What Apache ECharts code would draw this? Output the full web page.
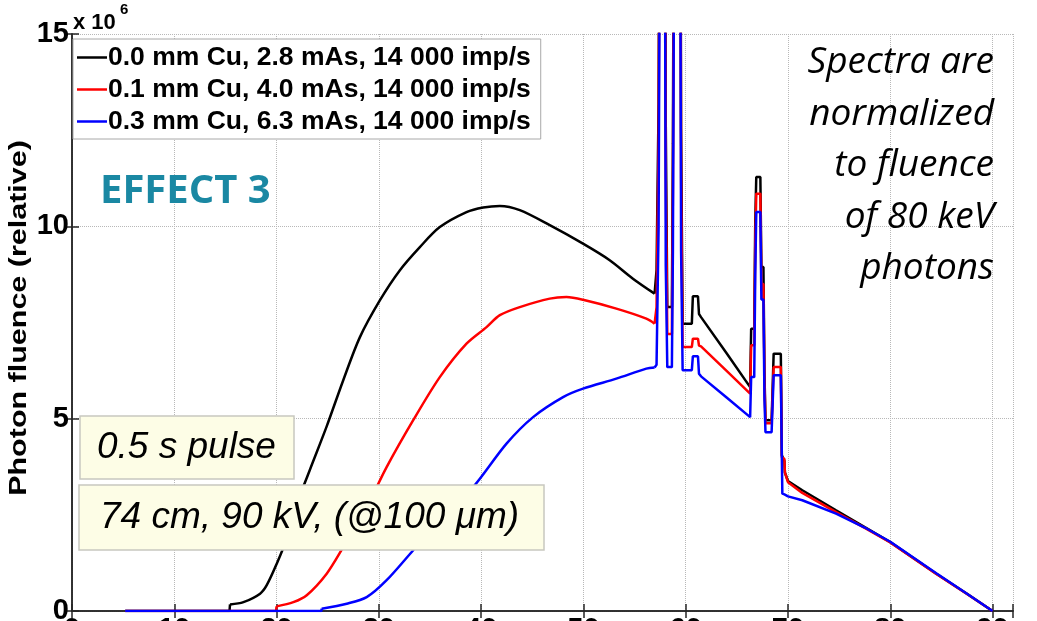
<!DOCTYPE html>
<html>
<head>
<meta charset="utf-8">
<script src="https://cdn.jsdelivr.net/npm/echarts@6/dist/echarts.min.js"></script>
<style>html,body{margin:0;padding:0;background:#fff}#c{width:1037px;height:621px}</style>
</head>
<body>
<div id="c"></div>
<script>
// ---- data (photon energy in keV, fluence in units of 1e6) ----
const seriesNames = [
  '0.0 mm Cu, 2.8 mAs, 14 000 imp/s',
  '0.1 mm Cu, 4.0 mAs, 14 000 imp/s',
  '0.3 mm Cu, 6.3 mAs, 14 000 imp/s'
];
const seriesColors = ['#000000', '#ff0000', '#0000ff'];
const xTickValues = [0, 10, 20, 30, 40, 50, 60, 70, 80, 90];
const yTickValues = [0, 5, 10, 15];

const blackKeV = [5.2, 15.4, 15.45, 16.76, 18.39, 19.04, 20.02, 21.0, 21.64, 23.27, 24.9, 26.52, 28.15, 30.11, 32.06, 34.01, 35.96, 38.57, 40.2, 41.83, 43.78, 46.71, 49.96, 52.57, 54.84, 56.96,
  57.05, 57.15, 57.35, 57.5, 57.95, 58.05, 58.2, 58.65, 58.75, 58.9, 59.45, 59.55, 59.7, 60.6, 60.7, 61.2, 61.3, 61.5, 64.0, 66.3,
  66.4, 66.7, 66.8, 66.9, 67.3, 67.4, 67.6, 67.7, 67.8, 68.4, 68.6, 69.3, 69.4, 69.45, 69.65, 69.7, 70.0, 71.4, 74.7, 77.5, 80, 84.5, 87.5, 90];
const blackVal = [0, 0, 0.17, 0.23, 0.45, 0.67, 1.23, 1.88, 2.53, 3.68, 4.80, 6.00, 7.12, 8.08, 8.86, 9.46, 9.98, 10.37, 10.49, 10.53, 10.42, 10.03, 9.55, 9.12, 8.64, 8.25,
  8.23, 8.86, 13.2, 24, 24, 12.7, 7.9, 7.9, 12.15, 24, 24, 12.5, 7.47, 7.47, 8.18, 8.18, 7.72, 7.64, 6.70, 5.82,
  7.34, 7.34, 10.11, 11.28, 11.28, 8.94, 8.94, 6.21, 4.96, 4.96, 6.69, 6.69, 4.05, 4.0, 3.9, 3.6, 3.38, 3.14, 2.62, 2.18, 1.79, 0.97, 0.45, 0];

const redKeV = [5.2, 19.95, 20.0, 21.64, 22.95, 24.9, 26.52, 28.81, 30.76, 33.36, 35.96, 38.57, 40.53, 41.83, 43.78, 46.71, 48.34, 49.96, 53.22, 56.15, 56.96,
  57.05, 57.15, 57.35, 57.5, 57.95, 58.05, 58.2, 58.65, 58.75, 58.9, 59.45, 59.55, 59.7, 60.6, 60.7, 61.2, 61.3, 61.5, 64.0, 66.3,
  66.4, 66.7, 66.8, 66.9, 67.3, 67.4, 67.6, 67.7, 67.8, 68.4, 68.6, 69.3, 69.4, 69.45, 69.65, 69.7, 70.0, 71.4, 74.7, 77.5, 80, 84.5, 87.5, 90];
const redVal = [0, 0, 0.12, 0.23, 0.41, 0.97, 1.66, 2.70, 3.74, 4.96, 6.08, 6.95, 7.38, 7.69, 7.90, 8.12, 8.16, 8.09, 7.86, 7.60, 7.47,
  7.47, 7.9, 12.15, 22, 22, 11.3, 7.2, 7.2, 11.0, 22, 22, 11.3, 6.86, 6.86, 7.08, 7.08, 6.9, 6.88, 6.24, 5.65,
  6.91, 6.91, 9.55, 10.85, 10.85, 8.5, 8.5, 6.0, 4.88, 4.88, 6.34, 6.34, 4.0, 4.0, 3.95, 3.6, 3.35, 3.07, 2.57, 2.16, 1.78, 0.96, 0.44, 0];

const blueKeV = [5.2, 24.38, 24.41, 26.86, 28.81, 30.76, 33.36, 35.96, 39.22, 42.48, 45.08, 48.01, 49.96, 53.22, 56.15, 56.96,
  57.05, 57.15, 57.35, 57.5, 57.95, 58.05, 58.2, 58.65, 58.75, 58.9, 59.45, 59.55, 59.7, 60.6, 60.7, 61.2, 61.3, 61.5, 64.0, 66.3,
  66.4, 66.7, 66.8, 66.9, 67.3, 67.4, 67.6, 67.7, 67.8, 68.4, 68.6, 69.3, 69.4, 69.45, 69.65, 69.7, 70.0, 71.4, 74.7, 77.5, 80, 84.5, 87.5, 90];
const blueVal = [0, 0, 0.06, 0.19, 0.36, 0.80, 1.58, 2.36, 3.22, 4.35, 5.04, 5.56, 5.78, 6.04, 6.30, 6.33,
  6.33, 6.4, 9.97, 20, 20, 9.0, 6.34, 6.34, 9.37, 20, 20, 9.37, 6.26, 6.26, 6.62, 6.62, 6.17, 6.10, 5.55, 5.04,
  6.08, 6.08, 8.73, 10.37, 10.37, 8.1, 8.1, 5.52, 4.65, 4.65, 6.13, 6.13, 3.97, 3.05, 3.03, 3.02, 2.98, 2.88, 2.53, 2.17, 1.80, 0.98, 0.45, 0];

const allKeV = [blackKeV, redKeV, blueKeV];
const allVal = [blackVal, redVal, blueVal];

const FONT = 'Liberation Sans, Arial, sans-serif';
const axisColor = '#262626';

// split each curve: flat start + jump (straight), smooth continuum, line-spike region (straight)
const series = [];
allKeV.forEach((xs, i) => {
  const pts = xs.map((x, j) => [x, allVal[i][j]]);
  const jump = 2;
  const end = xs.findIndex(x => x > 57) - 1;
  const parts = [
    {data: pts.slice(0, jump + 1), smooth: false},
    {data: pts.slice(jump, end + 1), smooth: 0.3},
    {data: pts.slice(end), smooth: false}
  ];
  parts.forEach(p => series.push({
    name: seriesNames[i], type: 'line', xAxisIndex: 0, yAxisIndex: 0,
    data: p.data, smooth: p.smooth,
    showSymbol: false, symbol: 'none', clip: true,
    lineStyle: {color: seriesColors[i], width: 2.5}, itemStyle: {color: seriesColors[i]}
  }));
});

const chart = echarts.init(document.getElementById('c'), null, {renderer: 'canvas'});
chart.setOption({
  animation: false,
  backgroundColor: '#fff',
  grid: {left: 72, top: 34, right: 24, bottom: 10, containLabel: false, outerBoundsMode: 'none'},
  legend: {
    data: seriesNames,
    left: 73, top: 39, orient: 'vertical',
    icon: 'rect', itemWidth: 30, itemHeight: 2.5, itemGap: 5,
    backgroundColor: '#fff', borderColor: '#a8a8a8', borderWidth: 1,
    padding: [5, 10, 4, 4],
    textStyle: {fontSize: 26.5, fontWeight: 'bold', color: '#000', fontFamily: FONT, padding: [0, 0, 0, -4]}
  },
  xAxis: [{
    type: 'value', min: 0, max: 92, interval: 10, position: 'bottom',
    axisLine: {show: true, lineStyle: {color: axisColor, width: 1.5}},
    axisTick: {show: true, inside: true, length: 7, lineStyle: {color: axisColor, width: 1.5}},
    axisLabel: {fontSize: 29, fontWeight: 'bold', color: '#000', fontFamily: FONT, margin: 4,
      formatter: v => (xTickValues.indexOf(v) >= 0 ? String(v) : '')},
    splitLine: {show: true, lineStyle: {type: 'dotted', color: '#b8b8b8', width: 1}}
  }, {
    type: 'value', min: 0, max: 92, interval: 10, position: 'top',
    axisLine: {show: true, lineStyle: {color: axisColor, width: 1.5}},
    axisTick: {show: true, inside: true, length: 7, lineStyle: {color: axisColor, width: 1.5}},
    axisLabel: {show: false}, splitLine: {show: false}
  }],
  yAxis: [{
    type: 'value', min: 0, max: 15, interval: 5, position: 'left',
    axisLine: {show: true, lineStyle: {color: axisColor, width: 1.5}},
    axisTick: {show: true, inside: true, length: 7, lineStyle: {color: axisColor, width: 1.5}},
    axisLabel: {fontSize: 29, fontWeight: 'bold', color: '#000', fontFamily: FONT, margin: 3,
      formatter: v => (yTickValues.indexOf(v) >= 0 ? String(v) : '')},
    splitLine: {show: true, lineStyle: {type: 'dotted', color: '#b8b8b8', width: 1}}
  }, {
    type: 'value', min: 0, max: 15, interval: 5, position: 'right',
    axisLine: {show: true, lineStyle: {color: axisColor, width: 1.5}},
    axisTick: {show: true, inside: true, length: 7, lineStyle: {color: axisColor, width: 1.5}},
    axisLabel: {show: false}, splitLine: {show: false}
  }],
  series: series,
  graphic: [
    {type: 'text', z: 100, x: 19, y: 318, rotation: Math.PI / 2, scaleX: 1.27,
      style: {text: 'Photon fluence (relative)', align: 'center', verticalAlign: 'middle', font: 'bold 24px ' + FONT, fill: '#000'}},
    {type: 'text', z: 100, style: {text: 'x 10', x: 73, y: 23, verticalAlign: 'middle', font: 'bold 22px ' + FONT, fill: '#000'}},
    {type: 'text', z: 100, style: {text: '6', x: 120, y: 10, verticalAlign: 'middle', font: 'bold 15px ' + FONT, fill: '#000'}},
    {type: 'text', z: 100, style: {text: 'EFFECT 3', x: 100, y: 192, verticalAlign: 'middle', font: 'bold 40px "Open Sans", sans-serif', fill: '#1a88a3'}},
    {type: 'text', z: 100, style: {text: 'Spectra are\nnormalized\nto fluence\nof 80 keV\nphotons', x: 994, y: 37, align: 'right', verticalAlign: 'top', lineHeight: 51.5, font: 'italic 37px "Open Sans", sans-serif', fill: '#000'}},
    {type: 'rect', z: 100, shape: {x: 80, y: 416, width: 214, height: 63}, style: {fill: '#fdfde6', stroke: '#c8c8c0', lineWidth: 1.5}},
    {type: 'text', z: 101, style: {text: '0.5 s pulse', x: 97, y: 448, verticalAlign: 'middle', font: 'italic 37px ' + FONT, fill: '#000'}},
    {type: 'rect', z: 100, shape: {x: 79, y: 485, width: 465, height: 65}, style: {fill: '#fdfde6', stroke: '#c8c8c0', lineWidth: 1.5}},
    {type: 'text', z: 101, style: {text: '74 cm, 90 kV, (@100 μm)', x: 100, y: 518, verticalAlign: 'middle', font: 'italic 37px ' + FONT, fill: '#000'}}
  ]
});
</script>
</body>
</html>
